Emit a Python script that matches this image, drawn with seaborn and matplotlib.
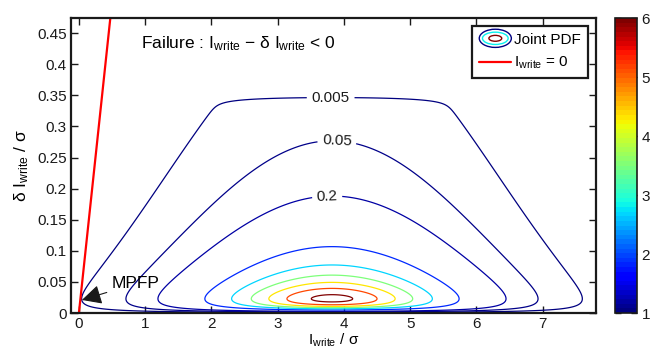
import numpy as np
import seaborn as sns
import matplotlib
matplotlib.use('Agg')
import matplotlib.pyplot as plt
from matplotlib.legend_handler import HandlerBase
from matplotlib.patches import Ellipse
from matplotlib.lines import Line2D
from matplotlib.colors import Normalize
from matplotlib.cm import ScalarMappable

# contour levels of the joint PDF (labelled ones are the three outer rings)
levels = [0.005, 0.05, 0.2, 1, 2, 3, 4, 5, 6]
labelled_levels = [0.005, 0.05, 0.2]
label_spots = [(3.8, 0.345), (3.9, 0.289), (3.75, 0.18)]

# shape of the joint PDF
pdf_peak = 6.3
mean_x = 3.82
sigma_x = 1.0
mode_y = 0.023
log_sigma_y = 0.8
cutoff_y = 0.345
cutoff_width = 0.004

# failure boundary I_write = delta I_write
boundary_x = [0.0, 0.5]
boundary_y = [0.0, 0.5]

mpfp = (0.045, 0.021)
mpfp_text = (0.49, 0.047)

x_ticks = [0, 1, 2, 3, 4, 5, 6, 7]
y_ticks = [0, 0.05, 0.1, 0.15, 0.2, 0.25, 0.3, 0.35, 0.4, 0.45]
cbar_ticks = [1, 2, 3, 4, 5, 6]


class ContourKey:
    pass


class ContourHandler(HandlerBase):
    """Legend key drawn as three nested ellipses, like MATLAB's contour key."""

    def create_artists(self, legend, orig_handle, xdescent, ydescent,
                       width, height, fontsize, trans):
        cx = width / 2 - xdescent
        cy = height / 2 - ydescent
        rings = [(1.0, 1.7, plt.get_cmap('jet')(0.0)),
                 (0.8, 1.15, plt.get_cmap('jet')(0.36)),
                 (0.4, 0.55, plt.get_cmap('jet')(1.0))]
        return [Ellipse((cx, cy), width * w, height * h, fill=False,
                        edgecolor=c, lw=1.0, transform=trans)
                for w, h, c in rings]


def make_field():
    xs = np.linspace(-0.2, 8.0, 700)
    ys = np.unique(np.concatenate([np.geomspace(1e-4, 0.05, 400),
                                   np.linspace(0.05, 0.48, 900)]))
    X, Y = np.meshgrid(xs, ys)
    Z = pdf_peak * np.exp(-(X - mean_x) ** 2 / (2 * sigma_x ** 2)
                          - np.log(Y / mode_y) ** 2 / (2 * log_sigma_y ** 2)
                          - np.exp((Y - cutoff_y) / cutoff_width))
    return X, Y, Z


def main():
    sns.set_theme(style='white')
    plt.rcParams['font.family'] = ['Liberation Sans', 'DejaVu Sans']
    plt.rcParams['mathtext.fontset'] = 'custom'
    plt.rcParams['mathtext.rm'] = 'Liberation Sans'
    plt.rcParams['mathtext.it'] = 'Liberation Sans:italic'
    plt.rcParams['text.color'] = 'black'
    plt.rcParams['axes.labelcolor'] = 'black'

    fig = plt.figure(figsize=(6.51, 3.49), dpi=100)
    ax = fig.add_axes([0.109, 0.103, 0.806, 0.845])
    cax = fig.add_axes([0.945, 0.103, 0.034, 0.845])

    X, Y, Z = make_field()
    jet = plt.get_cmap('jet')
    line_norm = Normalize(0, 6)
    colors = [jet(line_norm(l)) for l in levels]
    cs = ax.contour(X, Y, Z, levels=levels, colors=colors, linewidths=0.9)
    ax.clabel(cs, levels=labelled_levels, fmt='%g', fontsize=11,
              manual=label_spots, inline=True, inline_spacing=4, colors='k')

    sns.lineplot(x=boundary_x, y=boundary_y, color='red', lw=1.6, ax=ax)

    ax.annotate('MPFP', xy=mpfp, xytext=mpfp_text, fontsize=12.5,
                ha='left', va='center',
                arrowprops=dict(arrowstyle='-|>,head_length=0.8,head_width=0.4',
                                color='k', lw=0.8, shrinkA=1, shrinkB=0,
                                mutation_scale=15))

    ax.text(0.93, 0.426, r'Failure : I$_{\mathrm{write}}$ − δ I$_{\mathrm{write}}$ < 0',
            fontsize=12.5)

    ax.set_xlim(-0.12, 7.8)
    ax.set_ylim(0, 0.474)
    ax.set_xticks(x_ticks)
    ax.set_yticks(y_ticks)
    ax.set_yticklabels(['%g' % t for t in y_ticks])
    ax.tick_params(direction='in', length=5, width=1, colors='k', labelsize=11,
                   top=True, right=True, bottom=True, left=True)
    ax.tick_params(axis='x', pad=3)
    ax.tick_params(axis='y', pad=3)
    for s in ax.spines.values():
        s.set_color('k')
        s.set_linewidth(1.6)

    ax.set_xlabel(r'I$_{\mathrm{write}}$ / σ', fontsize=11)
    ax.xaxis.set_label_coords(0.5, -0.062)
    ax.set_ylabel(r'δ I$_{\mathrm{write}}$ / σ', fontsize=12.5)
    ax.yaxis.set_label_coords(-0.076, 0.5)

    red_key = Line2D([], [], color='red', lw=1.6)
    leg = ax.legend([ContourKey(), red_key],
                    ['Joint PDF', r'I$_{\mathrm{write}}$ = 0'],
                    handler_map={ContourKey: ContourHandler()},
                    loc='upper right', fontsize=11, frameon=True,
                    fancybox=False, framealpha=1, handlelength=2.1,
                    handletextpad=0.2, borderaxespad=0.5, labelspacing=0.55,
                    borderpad=0.45)
    leg.get_frame().set_edgecolor('k')
    leg.get_frame().set_linewidth(1.6)

    sm = ScalarMappable(norm=Normalize(1, 6), cmap=plt.get_cmap('jet', 64))
    cbar = fig.colorbar(sm, cax=cax, ticks=cbar_ticks)
    cbar.outline.set_edgecolor('k')
    cbar.outline.set_linewidth(1.2)
    cax.tick_params(direction='in', length=4, width=1, colors='k',
                    labelsize=11, left=True, right=True, pad=3)

    fig.savefig('out.png', dpi=100)


if __name__ == '__main__':
    main()
